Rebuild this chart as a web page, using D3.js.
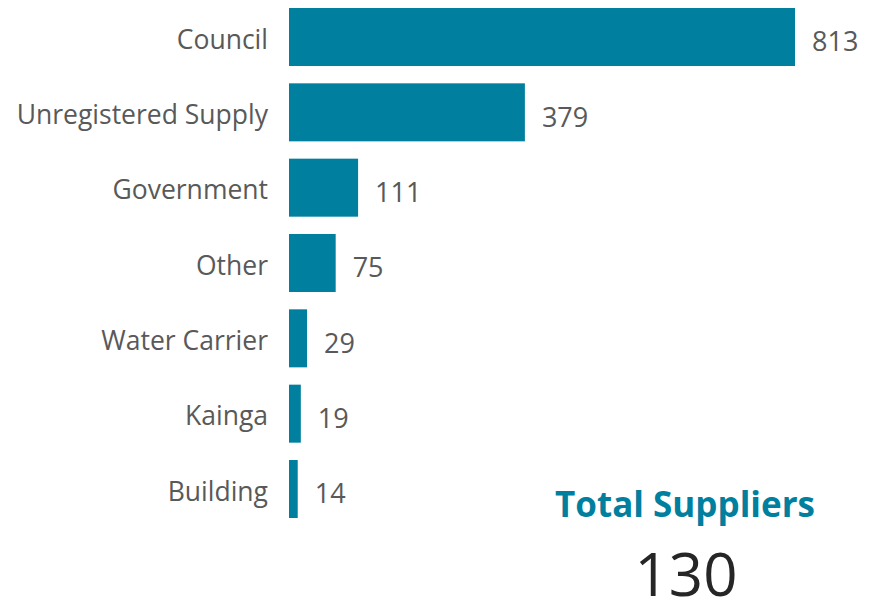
<!DOCTYPE html>
<html>
<head>
    <script src="https://cdn.jsdelivr.net/npm/d3@7"></script>
    <style>
        html, body {
            padding: 0;
            margin: 0;
            background: #ffffff;
        }
    </style>
</head>
<body>
<script>
    var width = 869, height = 603;

    // data
    var categories = ["Council", "Unregistered Supply", "Government", "Other", "Water Carrier", "Kainga", "Building"];
    var values = [813, 379, 111, 75, 29, 19, 14];
    var totalLabel = "Total Suppliers";
    var totalValue = 130;

    var barColor = "#007f9e";
    var textColor = "#595959";
    var font = "'Open Sans', sans-serif";

    var svg = d3.select("body").append("svg")
        .attr("width", width)
        .attr("height", height);

    var x = d3.scaleLinear()
        .domain([0, d3.max(values)])
        .range([289, 795]);

    var y = d3.scaleBand()
        .domain(categories)
        .range([8, 518])
        .paddingInner(0.23);

    var rows = categories.map(function (c, i) { return { name: c, value: values[i] }; });

    // bars
    svg.selectAll("rect.bar")
        .data(rows)
        .enter().append("rect")
        .attr("class", "bar")
        .attr("x", x(0))
        .attr("y", function (d) { return y(d.name); })
        .attr("width", function (d) { return x(d.value) - x(0); })
        .attr("height", y.bandwidth())
        .style("fill", barColor);

    // category labels
    svg.selectAll("text.cat")
        .data(rows)
        .enter().append("text")
        .attr("class", "cat")
        .attr("x", 268)
        .attr("y", function (d) { return y(d.name) + y.bandwidth() / 2 + 4.5; })
        .attr("text-anchor", "end")
        .attr("dominant-baseline", "middle")
        .style("font-family", font)
        .style("font-size", "26.5px")
        .style("fill", textColor)
        .text(function (d) { return d.name; });

    // value labels
    svg.selectAll("text.val")
        .data(rows)
        .enter().append("text")
        .attr("class", "val")
        .attr("x", function (d) { return x(d.value) + 17; })
        .attr("y", function (d) { return y(d.name) + y.bandwidth() / 2 + 7; })
        .attr("dominant-baseline", "middle")
        .style("font-family", font)
        .style("font-size", "27px")
        .style("fill", textColor)
        .text(function (d) { return d.value; });

    // total block
    svg.append("text")
        .attr("x", 685)
        .attr("y", 517)
        .attr("text-anchor", "middle")
        .style("font-family", font)
        .style("font-weight", "bold")
        .style("font-size", "35px")
        .style("fill", barColor)
        .text(totalLabel);

    svg.append("text")
        .attr("x", 686)
        .attr("y", 596)
        .attr("text-anchor", "middle")
        .style("font-family", font)
        .style("font-size", "60px")
        .style("fill", "#262626")
        .text(totalValue);
</script>
</body>
</html>
